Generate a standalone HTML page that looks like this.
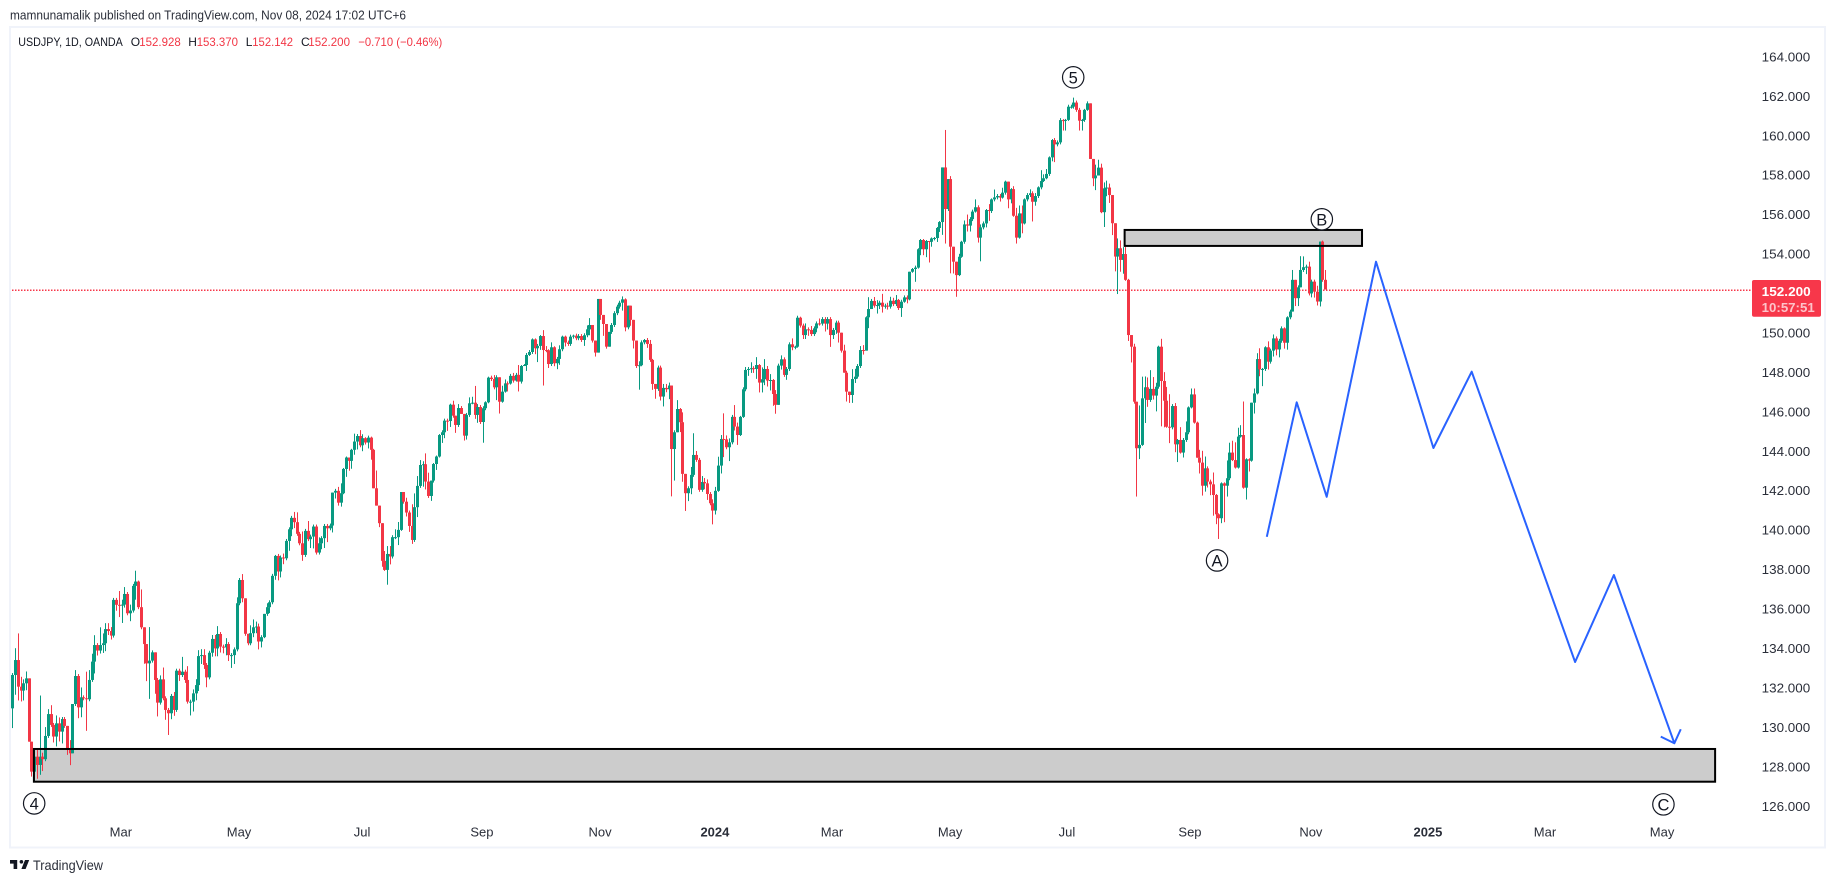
<!DOCTYPE html>
<html lang="en">
<head>
<meta charset="utf-8">
<title>USDJPY 1D chart</title>
<style>
html,body{margin:0;padding:0;background:#fff;width:1835px;height:883px;overflow:hidden}
svg{display:block;font-family:"Liberation Sans",Arial,sans-serif}
</style>
</head>
<body>
<svg id="chart" xmlns="http://www.w3.org/2000/svg" width="1835" height="883" viewBox="0 0 1835 883">
  <rect x="0" y="0" width="1835" height="883" fill="#ffffff"/>
  <text x="10" y="19.5" font-size="13" fill="#2a2e39" textLength="396" lengthAdjust="spacingAndGlyphs">mamnunamalik published on TradingView.com, Nov 08, 2024 17:02 UTC+6</text>
  <rect x="10" y="27" width="1815" height="820.5" fill="#ffffff" stroke="#f0f3fa" stroke-width="2"/>
  <g font-size="12">
    <text x="18.3" y="46" fill="#131722" textLength="104.5" lengthAdjust="spacingAndGlyphs">USDJPY, 1D, OANDA</text>
    <text x="130.7" y="46" fill="#131722">O</text>
    <text x="139.3" y="46" fill="#f23645" textLength="41.4" lengthAdjust="spacingAndGlyphs">152.928</text>
    <text x="188.3" y="46" fill="#131722">H</text>
    <text x="196.7" y="46" fill="#f23645" textLength="41.3" lengthAdjust="spacingAndGlyphs">153.370</text>
    <text x="245.7" y="46" fill="#131722">L</text>
    <text x="252.3" y="46" fill="#f23645" textLength="40.7" lengthAdjust="spacingAndGlyphs">152.142</text>
    <text x="301" y="46" fill="#131722">C</text>
    <text x="308.3" y="46" fill="#f23645" textLength="41.7" lengthAdjust="spacingAndGlyphs">152.200</text>
    <text x="358.3" y="46" fill="#f23645" textLength="84" lengthAdjust="spacingAndGlyphs">−0.710 (−0.46%)</text>
  </g>
  <g id="zoneFills"></g>
  <g id="priceLine"></g>
  <g id="candles"></g>
  <g id="zoneBorders"></g>
  <g id="projection"></g>
  <g id="waveLabels"></g>
  <g id="priceAxis"></g>
  <g id="timeAxis"></g>
  <g id="lastPriceTag"></g>
  <g>
    <path transform="translate(8.8 856.4) scale(0.6)" fill="#131722" d="M14 6H2v6h6v9h6V6zm14 15h-7l6-15h7l-6 15zm-7-9a3 3 0 1 0 0-6 3 3 0 0 0 0 6z"/>
    <text x="33" y="870" font-size="14" fill="#2a2e39" textLength="70" lengthAdjust="spacingAndGlyphs">TradingView</text>
  </g>
</svg>
<script>
var firstOpen = 130.96;
var closes = [
132.65,133.41,132.06,131.86,132.23,132.48,129.27,127.75,128.51,128.09,
128.51,128.38,129.56,130.67,130.12,129.53,130.20,129.78,130.42,130.07,
128.85,128.68,131.18,132.60,131.01,131.52,131.47,131.42,132.40,133.33,
134.17,133.89,134.17,134.26,134.98,134.88,134.65,136.46,136.21,136.19,
136.22,136.76,135.78,135.92,137.17,137.39,136.09,135.07,134.22,133.24,
133.38,133.80,132.40,131.25,132.43,131.47,130.88,130.71,131.59,130.88,
132.87,132.65,132.82,132.40,131.30,131.30,131.72,132.14,133.61,133.66,
133.16,132.53,133.78,134.48,134.00,134.73,134.09,134.05,134.22,133.66,
133.66,133.95,136.29,137.47,136.54,134.74,134.26,134.77,135.07,135.11,
134.35,134.57,135.75,136.09,136.34,137.68,138.69,137.90,138.61,138.57,
139.45,140.04,140.62,140.40,139.81,139.33,138.74,139.96,139.54,139.67,
140.18,138.86,139.33,139.59,140.21,140.09,140.23,141.90,141.99,141.39,
141.87,143.10,143.68,143.51,144.07,144.49,144.77,144.30,144.66,144.44,
144.69,144.07,142.12,141.24,140.35,138.44,137.98,138.79,138.66,139.64,
139.64,140.01,141.93,141.44,140.89,140.21,139.50,141.16,142.24,143.30,
143.34,142.46,141.73,142.51,143.35,143.73,144.82,144.96,145.55,145.53,
146.36,145.80,145.33,146.19,145.89,144.79,145.84,146.43,146.46,145.84,
146.24,145.48,146.18,146.48,147.73,147.66,147.24,147.75,146.51,147.02,
147.44,147.43,147.82,147.58,147.87,147.53,148.32,148.37,148.88,149.03,
149.67,149.22,149.34,149.84,149.13,149.12,148.42,149.27,148.46,148.68,
149.17,149.81,149.51,149.44,149.81,149.86,149.73,149.84,149.64,149.88,
150.18,150.40,149.61,149.00,151.72,150.91,150.45,149.30,150.05,150.40,
151.00,151.33,151.53,151.70,150.28,151.38,150.66,149.61,148.32,148.36,
149.52,149.64,149.44,148.63,147.41,147.16,148.24,146.77,147.21,147.14,
147.33,144.11,144.96,146.14,145.47,142.85,141.87,142.12,142.80,143.81,
143.56,142.04,142.44,142.37,141.83,141.36,140.99,141.99,143.27,144.62,
144.60,144.20,144.45,145.74,145.25,144.82,145.74,147.14,148.12,148.17,
148.21,148.17,148.37,147.48,147.65,148.17,147.58,147.61,146.90,146.35,
148.34,148.66,147.87,148.17,149.42,149.27,149.30,150.77,150.37,149.89,
150.18,150.15,149.94,150.23,150.48,150.47,150.70,150.47,150.70,149.89,
150.15,150.52,150.01,149.10,147.98,147.02,146.85,147.66,147.78,148.32,
149.13,149.10,150.79,151.21,151.62,151.38,151.41,151.53,151.33,151.38,
151.33,151.63,151.46,151.67,151.26,151.58,151.80,151.70,153.10,153.24,
153.31,154.24,154.71,154.24,154.66,154.62,154.79,154.81,155.32,155.62,
158.39,156.28,157.80,154.37,153.61,152.93,153.86,154.62,155.50,155.44,
155.77,156.15,156.37,154.83,155.35,155.55,156.23,156.18,156.77,156.87,
156.94,156.86,157.11,157.67,156.77,157.29,155.94,154.83,156.06,155.55,
156.77,156.99,157.08,156.65,156.94,157.38,157.70,157.84,158.06,158.90,
159.78,159.56,159.66,160.79,160.76,160.80,161.47,161.47,161.68,161.31,
160.76,160.80,161.31,161.64,158.82,157.84,157.98,158.38,156.12,157.33,
157.37,156.99,155.56,153.87,154.29,153.70,154.00,152.69,149.89,149.30,
146.51,144.15,144.32,146.68,147.24,146.60,147.16,146.82,147.27,149.30,
147.56,146.56,145.24,145.21,146.29,144.35,144.57,143.93,144.57,144.96,
146.22,146.88,145.45,143.67,143.42,142.25,143.13,142.46,142.32,141.78,
140.80,140.60,142.37,142.25,142.63,143.93,143.55,143.17,144.74,144.82,
142.15,143.59,143.52,146.46,146.93,148.67,148.15,148.17,149.27,148.54,
149.10,149.72,149.16,149.60,150.23,149.50,150.79,151.08,152.69,151.76,
152.31,153.19,153.33,153.36,152.00,152.60,152.09,151.59,154.63,152.69,
152.20];
var upperWicks = [
.1,.6,1.35,.5,.2,.35,0,0,.4,.4,
3.1,.2,.45,.25,.45,.1,.4,.3,.1,.1,
0,.5,0,.3,.1,.5,.1,1.35,.5,.4,
.5,.1,.9,.5,.3,.3,.2,.1,.1,.7,
.25,.35,.1,.3,.1,.55,.05,.9,0,0,
1.7,.1,0,.1,.2,.6,.1,.1,.1,.2,
.1,.1,.75,.1,.7,.1,.2,.3,.3,.3,
.3,.1,.1,.2,.2,.4,.1,.1,.3,.1,
.1,.1,.3,.1,.3,0,0,.4,.4,.25,
.15,.1,0,.2,.1,.1,.05,.1,.1,.2,
.1,.1,.1,.3,.5,.1,.6,.1,.5,.1,
.1,.1,.3,.1,.1,.1,.1,0,.1,.2,
.5,.05,.05,0,.05,.4,.1,.3,.2,.05,
.1,.05,.05,.9,0,0,.5,.4,.4,.1,
.4,.4,0,0,.2,.1,1.1,.7,.5,.25,
.15,.55,.45,0,.05,.05,.05,.1,.1,.1,
.05,.2,0,.2,.1,0,.1,.3,.3,.85,
.15,.1,.1,.05,.05,.1,.2,.1,0,.3,
.2,.1,.1,.15,.1,.5,.05,.05,.1,.1,
.05,.05,.1,.05,.3,.2,.05,.25,.05,.1,
.2,.05,.05,.1,.1,.05,.1,.1,.1,.1,
.2,.35,0,0,0,0,0,0,0,.1,
.1,.1,.1,.15,.05,0,0,0,0,.2,
.1,.05,.1,.2,.05,0,.1,.1,.2,.2,
.15,0,.1,.45,.05,.5,0,.1,.4,1.1,
.2,.1,.3,.2,.2,.1,.2,.2,.45,.2,
1.3,.2,.2,.1,.6,.2,.05,.1,.15,.1,
.3,.1,.4,.05,.6,.5,.15,.3,.05,.2,
.1,.2,.1,.1,.1,.3,.05,.1,.05,.1,
.3,.1,.2,.1,.1,.25,.1,.1,.1,.1,
.1,.1,.1,0,.3,.1,0,.5,.4,.1,
.2,.25,.05,.6,.1,.2,.25,.1,.45,.1,
.15,.2,.15,.25,.05,.1,.1,.1,0,.05,
.1,.05,.05,.05,.05,0,.05,.05,.05,.05,
0,1.9,0,.15,0,0,.15,.05,.2,.5,
.1,.1,.4,.1,.15,.1,.05,.3,.05,.4,
.1,.1,.25,.05,0,.05,.15,.4,.4,.4,
.05,.1,.2,.1,.15,.05,.55,.2,.25,.05,
.05,.1,.1,.1,.05,.05,.1,.1,.25,.1,
.1,.05,.05,.1,0,0,.55,.4,.2,.3,
.35,.2,0,0,.5,.4,.35,.35,.05,0,
.15,0,2.0,1.1,.55,.5,.95,.6,.2,.05,
.4,.45,.7,1.65,.1,.15,.05,.65,.1,.55,
.05,.3,.3,.05,.4,.6,.6,.1,.1,.6,
.05,.05,.05,.05,.9,.5,.6,.9,.45,.5,
1.7,.05,.05,0,.25,.3,.55,.05,.05,.3,
.1,.2,.1,.1,.1,.05,.05,.1,.5,0,
.1,.7,.55,.1,.25,.1,.1,.3,0,.05,
.5];
var lowerWicks = [
1.0,1.0,.7,.55,.5,.35,0,.25,.5,.7,
.5,.6,.1,.1,.1,.3,.5,.5,.6,.1,
.25,.6,0,.1,.55,.5,.1,1.6,.1,.1,
.6,.25,.15,.4,.4,.2,.2,.1,.3,.6,
.9,.15,.1,.4,.1,.7,.1,.1,1.0,.9,
1.8,.1,.7,.7,.1,.1,.5,1.1,.3,.3,
.1,.3,.1,.15,.1,.7,.5,.35,.3,.4,
.2,.5,.1,.2,.4,.4,.3,.3,.4,.3,
.65,.45,.1,.1,.2,.1,.1,.1,.2,.3,
.4,.3,.05,.1,.3,.1,.2,.45,.3,.3,
.1,.5,.35,.3,.1,.1,.3,.1,.1,.45,
.6,.1,.1,.3,.5,.7,.1,.35,.3,.15,
.2,.05,.4,.5,.4,.25,.4,.1,.3,.1,
.3,.5,0,0,.2,.3,.05,.75,.4,.1,
.1,.4,.05,.1,.2,.3,.2,.1,.5,.1,
1.1,.4,.1,.25,.1,.3,.05,.4,.3,.5,
.3,.1,.4,.1,0,.25,.2,.1,.05,.2,
.4,.1,1.05,.1,.05,.1,.1,.65,.6,.05,
.05,.4,.05,.1,.05,.5,.1,0,.3,.05,
.1,.3,.7,.2,1.8,.1,.2,.1,.15,.3,
.3,.1,.2,.1,.1,.1,.1,.1,.1,.3,
.1,.3,.1,.2,0,.25,.6,.1,0,.1,
.1,.1,.1,.4,.2,.1,.3,.4,.1,1.2,
.05,.1,.2,.1,.3,.5,.1,.2,.5,.15,
.5,2.4,1.6,0,.5,.4,.9,.4,.3,.1,
.1,.1,.1,.3,.3,.1,.7,.2,.05,.4,
.9,.1,.7,.1,.2,.5,.05,.05,.1,.3,
.2,.2,.5,.5,.5,.3,.3,.5,.6,.45,
0,.2,.1,.25,.1,.15,.1,.05,.1,.2,
.2,.3,.1,.1,.2,.1,.1,.4,.3,.6,
.2,.2,.5,.1,0,.5,.4,.4,.2,.1,
.1,.2,0,.55,0,.1,.4,.2,.3,.1,
.15,.1,.1,.1,.1,.45,.05,.2,.05,.05,
.65,.05,.3,.3,.4,1.05,.25,.1,.2,.2,
.65,1.75,.1,1.35,.6,1.1,.05,.05,.1,.3,
.3,.1,.05,.25,1.2,.1,.2,.5,.1,.1,
.1,.2,.05,.1,.45,.2,.05,.3,.05,.5,
.05,.1,.1,1.0,.2,.1,.1,.05,.05,.1,
.2,.9,.1,.1,.5,.5,.05,.1,.1,.1,
.5,.5,.1,.05,0,.4,.6,0,.05,.75,
.4,.4,.6,.75,1.9,.6,.7,.05,.3,.8,
.1,2.45,.55,.05,1.25,.35,.1,.2,.8,.1,
2.3,1.35,.05,.8,.1,.4,.9,.05,.25,.1,
.1,.05,.05,0,.55,.5,.3,.3,.55,1.05,
.5,1.05,.25,1.85,.55,.1,.05,.05,.05,.05,
.05,.6,.55,.05,.55,.05,.35,.85,.1,.4,
.1,.3,.3,.4,.1,.3,.35,.1,0,.4,
.4,0,.1,.35,.1,.2,.3,.2,.25,.1,
0];
var priceTicks = [126,128,130,132,134,136,138,140,142,144,146,148,150,152,154,156,158,160,162,164];
var timeTickLabels = ["Mar","May","Jul","Sep","Nov","2024","Mar","May","Jul","Sep","Nov","2025","Mar","May"];
var timeTickBars = [39.7,82.9,127.9,171.7,214.9,256.9,299.7,342.9,385.6,430.6,474.8,517.6,560.4,603.2];
var projectionBars = [458.7,469.6,480.6,498.6,519.6,533.6,571.4,585.6,607.7];
var projectionPrices = [139.66,146.48,141.69,153.61,144.16,148.03,133.31,137.72,129.19];
var zoneStartBars = [7.9,406.7];
var zoneEndBars = [622.6,493.5];
var zoneTopPrices = [128.90,155.22];
var zoneBottomPrices = [127.24,154.41];
var waveNames = ["4","5","A","B","C"];
var waveBars = [8.0,387.9,440.5,478.8,603.7];
var wavePrices = [126.14,162.96,138.46,155.76,126.09];
var lastPrice = 152.200;
var lastPriceText = "152.200";
var countdownText = "10:57:51";

var NS = "http://www.w3.org/2000/svg";
var GREEN = "#089981", RED = "#f23645";
function xScale(i){ return 12.3 + i * 2.735; }
function yScale(p){ return 254 + (154 - p) * 19.72; }
function make(tag, attrs, parent){
  var el = document.createElementNS(NS, tag);
  for (var k in attrs) el.setAttribute(k, attrs[k]);
  parent.appendChild(el);
  return el;
}

var zoneFills = document.getElementById("zoneFills");
var zoneBorders = document.getElementById("zoneBorders");
zoneStartBars.forEach(function(b, i){
  var x = xScale(b), w = xScale(zoneEndBars[i]) - x;
  var y = yScale(zoneTopPrices[i]), h = yScale(zoneBottomPrices[i]) - y;
  var f = make("rect", {x:x, y:y, width:w, height:h, fill:"#cccccc"}, zoneFills);
  
  
  var r = make("rect", {x:x, y:y, width:w, height:h, fill:"none", stroke:"#000000", "stroke-width":2}, zoneBorders);
  
  
});

var priceLineGroup = document.getElementById("priceLine");
var pl = make("line", {x1:12, x2:1752, y1:yScale(lastPrice) + 0.7, y2:yScale(lastPrice) + 0.7, stroke:"#f7374a", "stroke-width":1.5, "stroke-dasharray":"1.5 1.5"}, priceLineGroup);



var candleGroup = document.getElementById("candles");
closes.forEach(function(c, i){
  var o = i === 0 ? firstOpen : closes[i - 1];
  var top = Math.max(o, c), bot = Math.min(o, c);
  var hi = top + upperWicks[i], lo = bot - lowerWicks[i];
  var col = c >= o ? GREEN : RED;
  var cx = Math.round(xScale(i));
  var g = make("g", {}, candleGroup);
  
  
  var wy = yScale(hi);
  var wick = make("rect", {x:cx, y:wy, width:1, height:Math.max(1, yScale(lo) - wy), fill:col}, g);
  
  
  var by = yScale(top);
  var body = make("rect", {x:cx - 1, y:by, width:3, height:Math.max(1, yScale(bot) - by), fill:col}, g);
  
  
});

var projectionGroup = document.getElementById("projection");
var pathPts = projectionBars.map(function(b, i){ return xScale(b).toFixed(1) + "," + yScale(projectionPrices[i]).toFixed(1); }).join(" ");
var projLine = make("polyline", {points:pathPts, fill:"none", stroke:"#2962ff", "stroke-width":2, "stroke-linejoin":"round"}, projectionGroup);


var tipX = xScale(projectionBars[projectionBars.length - 1]);
var tipY = yScale(projectionPrices[projectionPrices.length - 1]);
var head = make("polyline", {points:(tipX - 13.6) + "," + (tipY - 6.6) + " " + tipX + "," + tipY + " " + (tipX + 6.4) + "," + (tipY - 14), fill:"none", stroke:"#2962ff", "stroke-width":2, "stroke-linejoin":"round"}, projectionGroup);



var waveGroup = document.getElementById("waveLabels");
waveNames.forEach(function(n, i){
  var cx = xScale(waveBars[i]), cy = yScale(wavePrices[i]);
  var g = make("g", {}, waveGroup);
  
  
  var circ = make("circle", {cx:cx, cy:cy, r:10.7, fill:"#ffffff", stroke:"#131722", "stroke-width":1.2}, g);
  
  
  var t = make("text", {x:cx, y:cy + 6, "text-anchor":"middle", "font-size":16.5, fill:"#131722"}, g);
  
  
  t.textContent = n;
});

var priceAxis = document.getElementById("priceAxis");
priceTicks.forEach(function(p){
  var t = make("text", {x:1761.7, y:yScale(p) + 4.6, "font-size":13, fill:"#2a2e39", textLength:48.5, lengthAdjust:"spacingAndGlyphs"}, priceAxis);
  
  
  t.textContent = p.toFixed(3);
});

var timeAxis = document.getElementById("timeAxis");
timeTickLabels.forEach(function(s, i){
  var bold = s.length === 4;
  var t = make("text", {x:xScale(timeTickBars[i]), y:836.5, "text-anchor":"middle", "font-size":13, "font-weight":bold ? "bold" : "normal", fill:"#2a2e39"}, timeAxis);
  
  
  t.textContent = s;
});

var tagGroup = document.getElementById("lastPriceTag");
var tagY = yScale(lastPrice) - 9.5;
var tag = make("rect", {x:1752, y:tagY, width:69, height:36.7, rx:2, fill:"#f7374a"}, tagGroup);


var tp = make("text", {x:1761.7, y:tagY + 16, "font-size":13, "font-weight":"bold", fill:"#ffffff", textLength:49, lengthAdjust:"spacingAndGlyphs"}, tagGroup);


tp.textContent = lastPriceText;
var tc = make("text", {x:1761.7, y:tagY + 32, "font-size":13, "font-weight":"bold", fill:"#ffffff", "fill-opacity":0.7, textLength:53, lengthAdjust:"spacingAndGlyphs"}, tagGroup);


tc.textContent = countdownText;
</script>
</body>
</html>
